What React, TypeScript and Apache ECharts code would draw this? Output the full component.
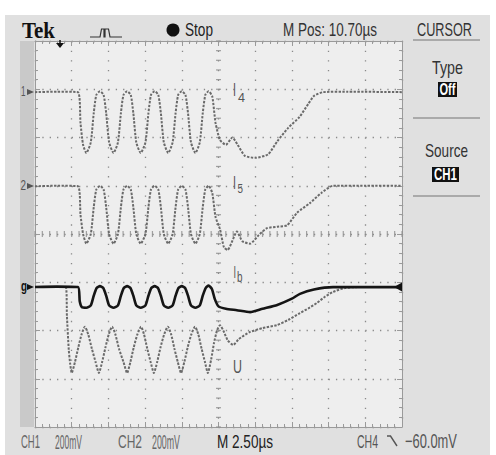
import React, { useEffect, useRef } from 'react';
import * as echarts from 'echarts';

// Screen: 10 horizontal divisions (2.50 µs/div), 8 vertical divisions.
const xDivisions = 10;
const yDivisions = 8;

// Trace values in graticule divisions: [x (div from left), y (div from bottom)]
const traceI4: [number, number][] = [
  [0, 6.94], [0.6, 6.95], [1.17, 6.94],
  [1.24, 6.3], [1.31, 5.85], [1.4, 5.68], [1.52, 5.9], [1.6, 6.5], [1.67, 6.88], [1.77, 6.96], [1.87, 6.88], [1.94, 6.5], [2.02, 5.9],
  [2.14, 5.68], [2.26, 5.9], [2.34, 6.5], [2.41, 6.88], [2.51, 6.96], [2.61, 6.88], [2.68, 6.5], [2.76, 5.9],
  [2.88, 5.68], [3.01, 5.9], [3.09, 6.5], [3.16, 6.88], [3.26, 6.96], [3.36, 6.88], [3.43, 6.5], [3.51, 5.9],
  [3.63, 5.68], [3.75, 5.9], [3.83, 6.5], [3.9, 6.88], [4.0, 6.96], [4.1, 6.88], [4.17, 6.5], [4.25, 5.9],
  [4.37, 5.68], [4.49, 5.9], [4.57, 6.5], [4.64, 6.88], [4.73, 6.96], [4.83, 6.85], [4.92, 6.3], [5.04, 5.95],
  [5.2, 5.85], [5.38, 6.0], [5.52, 5.85], [5.72, 5.62], [6.0, 5.58], [6.35, 5.65], [6.6, 5.92], [6.9, 6.2],
  [7.2, 6.42], [7.45, 6.7], [7.6, 6.86], [7.85, 6.94], [8.5, 6.95], [10, 6.94],
];

const traceI5: [number, number][] = [
  [0, 4.99], [0.6, 5.0], [1.17, 4.99],
  [1.24, 4.4], [1.31, 4.0], [1.4, 3.8], [1.52, 4.0], [1.6, 4.55], [1.67, 4.92], [1.77, 5.0], [1.87, 4.92], [1.94, 4.55], [2.02, 4.0],
  [2.14, 3.8], [2.26, 4.0], [2.34, 4.55], [2.41, 4.92], [2.51, 5.0], [2.61, 4.92], [2.68, 4.55], [2.76, 4.0],
  [2.88, 3.8], [3.01, 4.0], [3.09, 4.55], [3.16, 4.92], [3.26, 5.0], [3.36, 4.92], [3.43, 4.55], [3.51, 4.0],
  [3.63, 3.8], [3.75, 4.0], [3.83, 4.55], [3.9, 4.92], [4.0, 5.0], [4.1, 4.92], [4.17, 4.55], [4.25, 4.0],
  [4.37, 3.8], [4.49, 4.0], [4.57, 4.55], [4.64, 4.92], [4.73, 5.0], [4.83, 4.85], [4.92, 4.35], [5.04, 4.1],
  [5.15, 3.72], [5.25, 3.67], [5.4, 3.9], [5.5, 4.05], [5.65, 3.85], [5.86, 3.8], [6.1, 3.98], [6.32, 4.12],
  [6.6, 4.15], [6.87, 4.18], [7.14, 4.44], [7.49, 4.64], [7.8, 4.85], [8.12, 5.0], [9.0, 5.0], [10, 5.0],
];

const traceIb: [number, number][] = [
  [0, 2.9], [0.6, 2.91], [1.17, 2.9],
  [1.22, 2.6], [1.28, 2.48], [1.4, 2.47], [1.52, 2.52], [1.6, 2.72], [1.68, 2.88], [1.77, 2.92], [1.86, 2.88], [1.94, 2.72], [2.02, 2.52],
  [2.14, 2.47], [2.26, 2.52], [2.34, 2.72], [2.42, 2.88], [2.51, 2.92], [2.6, 2.88], [2.68, 2.72], [2.76, 2.52],
  [2.88, 2.47], [3.01, 2.52], [3.09, 2.72], [3.17, 2.88], [3.26, 2.92], [3.35, 2.88], [3.43, 2.72], [3.51, 2.52],
  [3.63, 2.47], [3.75, 2.52], [3.83, 2.72], [3.91, 2.88], [4.0, 2.92], [4.09, 2.88], [4.17, 2.72], [4.25, 2.52],
  [4.37, 2.47], [4.49, 2.52], [4.57, 2.72], [4.65, 2.88], [4.73, 2.93], [4.82, 2.86], [4.9, 2.65], [5.0, 2.5],
  [5.2, 2.45], [5.5, 2.42], [5.86, 2.38], [6.2, 2.45], [6.6, 2.53], [7.0, 2.66], [7.22, 2.76], [7.6, 2.85],
  [8.12, 2.9], [9.0, 2.9], [10, 2.9],
];

const traceU: [number, number][] = [
  [0, 2.9], [0.84, 2.9], [0.87, 2.3], [0.92, 1.6], [0.96, 1.3], [1.0, 1.12],
  [1.09, 1.35], [1.18, 1.65], [1.27, 1.92], [1.36, 2.08], [1.45, 1.92], [1.55, 1.62], [1.65, 1.35], [1.74, 1.12],
  [1.83, 1.35], [1.92, 1.65], [2.01, 1.92], [2.1, 2.08], [2.19, 1.92], [2.29, 1.62], [2.41, 1.35], [2.51, 1.12],
  [2.6, 1.35], [2.69, 1.65], [2.79, 1.92], [2.89, 2.08], [2.97, 1.92], [3.06, 1.62], [3.15, 1.35], [3.24, 1.12],
  [3.33, 1.35], [3.42, 1.65], [3.52, 1.92], [3.62, 2.08], [3.71, 1.92], [3.8, 1.62], [3.89, 1.35], [3.98, 1.12],
  [4.07, 1.35], [4.16, 1.65], [4.26, 1.92], [4.36, 2.08], [4.45, 1.92], [4.54, 1.62], [4.63, 1.35], [4.71, 1.12],
  [4.8, 1.4], [4.88, 1.75], [4.96, 2.0], [5.04, 2.11], [5.13, 2.0], [5.25, 1.8], [5.4, 1.7], [5.55, 1.82],
  [5.86, 1.97], [6.2, 2.05], [6.59, 2.11], [6.9, 2.22], [7.22, 2.36], [7.45, 2.46], [7.68, 2.57], [7.9, 2.7],
  [8.12, 2.8], [8.45, 2.88], [8.8, 2.9], [10, 2.9],
];

// Readouts
const headerTexts = { brand: 'Tek', state: 'Stop', mpos: 'M Pos: 10.70µs', menu: 'CURSOR' };
const menuTexts = { type: 'Type', typeVal: 'Off', source: 'Source', sourceVal: 'CH1' };
const footerTexts = { ch1: 'CH1', ch1v: '200mV', ch2: 'CH2', ch2v: '200mV', time: 'M 2.50µs', ch4: 'CH4', ch4v: '−60.0mV' };

const G = { left: 35, top: 41, width: 367, height: 386 };

export default function App() {
  const ref = useRef<HTMLDivElement>(null);

  useEffect(() => {
    document.body.style.margin = '0';
    const chart = echarts.init(ref.current!, null, { renderer: 'svg', width: 496, height: 455 });
    const ctx = document.createElement('canvas').getContext('2d')!;
    const fitText = (text: string, x1: number, x2: number, yc: number, size: number, fill: string, weight: string = 'normal', family: string = 'Liberation Sans') => {
      ctx.font = `${weight} ${size}px "${family}"`;
      const w = ctx.measureText(text).width || 1;
      return {
        type: 'text', x: x1, y: yc, scaleX: (x2 - x1) / w, z: 30,
        style: { text, fontSize: size, fontFamily: family, fontWeight: weight, fill, align: 'left', verticalAlign: 'middle' },
      };
    };

    const tickColor = '#9a9a9a';
    const axisCommon: any = {
      type: 'value',
      axisLabel: { show: false },
      axisLine: { show: true, onZero: false, lineStyle: { color: tickColor, width: 1 } },
      axisTick: { show: true, inside: true, length: 5, lineStyle: { color: tickColor } },
      minorTick: { show: true, splitNumber: 5, length: 3, lineStyle: { color: tickColor } },
    };

    const centerH: number[][] = [];
    for (let i = 0; i <= xDivisions * 5; i++) centerH.push([i / 5, yDivisions / 2]);
    const centerV: number[][] = [];
    for (let j = 0; j <= yDivisions * 5; j++) centerV.push([xDivisions / 2, j / 5]);

    const grey = '#6a6a6a';
    const graphics: any[] = [
      { type: 'rect', z: -10, shape: { x: 5, y: 15, width: 485, height: 440 }, style: { fill: '#e0e0e0' } },
      { type: 'rect', z: -9, shape: { x: G.left, y: G.top, width: G.width, height: G.height }, style: { fill: '#eeeeee' } },
      { type: 'rect', z: -9, shape: { x: 20, y: G.top, width: 14, height: G.height }, style: { fill: '#c9c9c9' } },
      // header
      fitText(headerTexts.brand, 22, 55, 30, 24, '#111', 'bold', 'Liberation Serif'),
      { type: 'polyline', z: 30, shape: { points: [[90, 37], [100, 37], [101.5, 29], [104, 29], [104, 37], [105, 37], [105, 29], [108.5, 29], [110, 37], [122, 37]] }, style: { stroke: '#333', lineWidth: 1.2, fill: null } },
      { type: 'circle', z: 30, shape: { cx: 173, cy: 30, r: 6.5 }, style: { fill: '#111' } },
      fitText(headerTexts.state, 185, 213, 30, 18, '#222'),
      fitText(headerTexts.mpos, 283, 377, 30, 18, '#333'),
      fitText(headerTexts.menu, 417, 472, 30, 18, '#333'),
      // right menu
      { type: 'line', z: 30, shape: { x1: 413, y1: 40, x2: 480, y2: 40 }, style: { stroke: '#999', lineWidth: 1.5 } },
      fitText(menuTexts.type, 432, 463, 67, 18, '#333'),
      { type: 'rect', z: 29, shape: { x: 438, y: 82, width: 19, height: 15 }, style: { fill: '#111' } },
      fitText(menuTexts.typeVal, 439.5, 455.5, 89.5, 16, '#fff', 'bold'),
      { type: 'line', z: 30, shape: { x1: 413, y1: 118, x2: 480, y2: 118 }, style: { stroke: '#999', lineWidth: 1.5 } },
      fitText(menuTexts.source, 425, 468, 151, 18, '#333'),
      { type: 'rect', z: 29, shape: { x: 432, y: 167, width: 27, height: 15 }, style: { fill: '#111' } },
      fitText(menuTexts.sourceVal, 434, 457, 174.5, 16, '#fff', 'bold'),
      { type: 'line', z: 30, shape: { x1: 413, y1: 196, x2: 480, y2: 196 }, style: { stroke: '#999', lineWidth: 1.5 } },
      // footer
      fitText(footerTexts.ch1, 21, 40, 441, 19, '#666'),
      fitText(footerTexts.ch1v, 55, 82, 441, 21, '#666'),
      fitText(footerTexts.ch2, 118, 142, 441, 19, '#666'),
      fitText(footerTexts.ch2v, 152, 180, 441, 21, '#666'),
      fitText(footerTexts.time, 217, 273, 441, 19, '#222'),
      fitText(footerTexts.ch4, 357, 378, 441, 19, '#555'),
      { type: 'polyline', z: 30, shape: { points: [[387, 436], [390.5, 436], [397, 446]] }, style: { stroke: '#555', lineWidth: 1.4, fill: null } },
      fitText(footerTexts.ch4v, 405, 457, 441, 20, '#555'),
      // trigger position / level markers
      { type: 'line', z: 30, shape: { x1: 60, y1: 40, x2: 60, y2: 44 }, style: { stroke: '#111', lineWidth: 1.5 } },
      { type: 'polygon', z: 30, shape: { points: [[56, 43], [64, 43], [60, 48]] }, style: { fill: '#111' } },
      { type: 'polygon', z: 30, shape: { points: [[394, 287], [402, 282.5], [402, 291.5]] }, style: { fill: '#111' } },
      // channel markers
      fitText('1', 21, 25.5, 91.5, 14, '#555'),
      { type: 'polygon', z: 30, shape: { points: [[27, 89], [34, 92], [27, 95]] }, style: { fill: '#555' } },
      fitText('2', 20.5, 26, 185.5, 14, '#555'),
      { type: 'polygon', z: 30, shape: { points: [[27, 183], [34, 186], [27, 189]] }, style: { fill: '#555' } },
      fitText('g', 21, 27, 286, 15, '#111', 'bold'),
      { type: 'polygon', z: 30, shape: { points: [[27, 284], [34, 287], [27, 290]] }, style: { fill: '#111' } },
      // trace labels
      fitText('I', 233, 236, 90, 18, '#555'),
      fitText('4', 238, 245, 97, 13, '#555'),
      fitText('I', 233, 236, 182.5, 18, '#555'),
      fitText('5', 237.5, 243, 188, 13, '#555'),
      fitText('I', 233.5, 236, 272.5, 17, '#555'),
      fitText('b', 237, 242.5, 277, 14, '#555'),
      fitText('U', 233, 242, 366, 19, '#555'),
    ];

    chart.setOption({
      animation: false,
      backgroundColor: '#ffffff',
      grid: { left: G.left, top: G.top, width: G.width, height: G.height, show: false },
      xAxis: [
        { ...axisCommon, min: 0, max: xDivisions, interval: 1, position: 'bottom',
          splitLine: { show: true, lineStyle: { color: '#8a8a8a', width: 1.3, type: [1.3, 8.35] } } },
        { ...axisCommon, min: 0, max: xDivisions, interval: 1, position: 'top', splitLine: { show: false } },
      ],
      yAxis: [
        { ...axisCommon, min: 0, max: yDivisions, interval: 1, position: 'left',
          splitLine: { show: true, lineStyle: { color: '#8a8a8a', width: 1.3, type: [1.3, 6.04] } } },
        { ...axisCommon, min: 0, max: yDivisions, interval: 1, position: 'right', splitLine: { show: false } },
      ],
      graphic: { elements: graphics },
      series: [
        { type: 'scatter', silent: true, data: centerH, symbol: 'rect', symbolSize: [1.2, 6], itemStyle: { color: '#8c8c8c' }, z: 1 },
        { type: 'scatter', silent: true, data: centerV, symbol: 'rect', symbolSize: [5, 1.2], itemStyle: { color: '#8c8c8c' }, z: 1 },
        { type: 'line', name: 'I4', data: traceI4, showSymbol: false, symbol: 'none', silent: true, smooth: 0.2,
          lineStyle: { color: grey, width: 2, type: [2.4, 1.4] } },
        { type: 'line', name: 'I5', data: traceI5, showSymbol: false, symbol: 'none', silent: true, smooth: 0.2,
          lineStyle: { color: grey, width: 2, type: [2.4, 1.4] } },
        { type: 'line', name: 'U', data: traceU, showSymbol: false, symbol: 'none', silent: true, smooth: 0.2,
          lineStyle: { color: grey, width: 2, type: [2.4, 1.4] } },
        { type: 'line', name: 'Ib', data: traceIb, showSymbol: false, symbol: 'none', silent: true, smooth: 0.2,
          lineStyle: { color: '#151515', width: 2.6 } },
      ],
    });
    return () => chart.dispose();
  }, []);

  return <div ref={ref} style={{ position: 'absolute', left: 0, top: 0, width: 496, height: 455, background: '#fff' }} />;
}
